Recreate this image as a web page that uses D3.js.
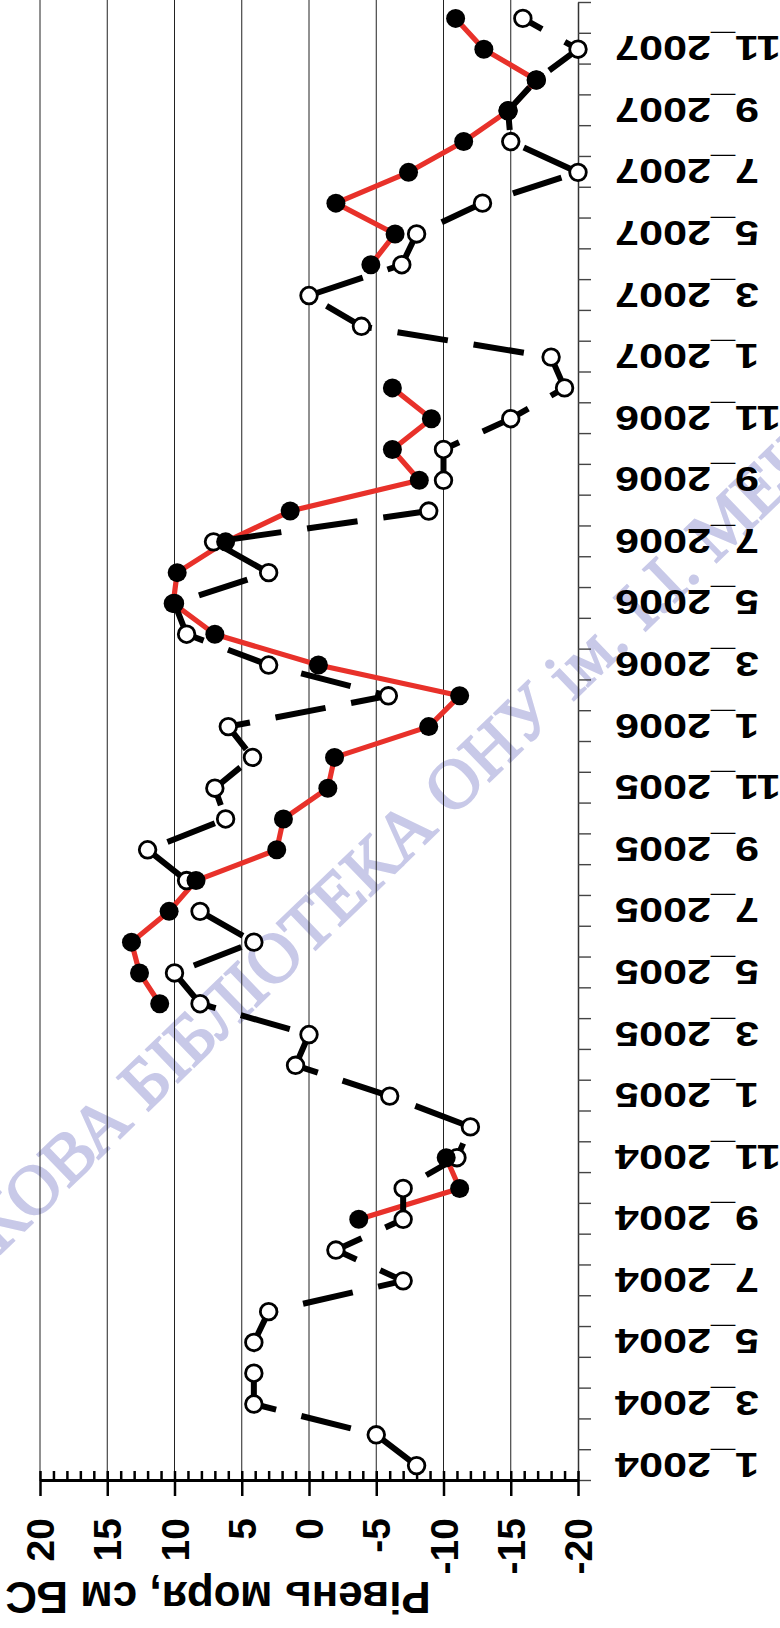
<!DOCTYPE html>
<html><head><meta charset="utf-8">
<script src="https://cdn.jsdelivr.net/npm/d3@7/dist/d3.min.js"></script>
<style>body{margin:0;background:#fff}svg{display:block;background:#fff}</style>
</head><body>
<svg id="c" width="780" height="1628"></svg>
<script>
// ---- data ----
const categories = [
 "1_2004","2_2004","3_2004","4_2004","5_2004","6_2004","7_2004","8_2004","9_2004","10_2004","11_2004","12_2004",
 "1_2005","2_2005","3_2005","4_2005","5_2005","6_2005","7_2005","8_2005","9_2005","10_2005","11_2005","12_2005",
 "1_2006","2_2006","3_2006","4_2006","5_2006","6_2006","7_2006","8_2006","9_2006","10_2006","11_2006","12_2006",
 "1_2007","2_2007","3_2007","4_2007","5_2007","6_2007","7_2007","8_2007","9_2007","10_2007","11_2007","12_2007"];
const labelCategories = ["1_2004","3_2004","5_2004","7_2004","9_2004","11_2004","1_2005","3_2005","5_2005","7_2005","9_2005","11_2005",
 "1_2006","3_2006","5_2006","7_2006","9_2006","11_2006","1_2007","3_2007","5_2007","7_2007","9_2007","11_2007"];
// dashed black series, open circles
const seriesOpen = [-8,-5,4.1,4.1,4.1,3,-7,-2,-7,-7,-11,-12,
 -6,1,0,8.1,10,4.1,8.1,9.1,12,6.2,7,4.2,
 6,-5.9,3,9.1,10,3,7.1,-8.9,-10,-10,-15,-19,
 -18,-3.9,0,-6.9,-8,-12.9,-20,-15,-14.8,-16.9,-20,-15.9];
// red series, filled circles
const seriesFilled = [null,null,null,null,null,null,null,null,-3.7,-11.2,-10.2,null,
 null,null,null,11.1,12.6,13.2,10.4,8.4,2.4,1.9,-1.4,-1.9,
 -8.9,-11.2,-0.7,7,10.1,9.8,6.2,1.4,-8.2,-6.2,-9.1,-6.2,
 null,null,null,-4.6,-6.4,-2,-7.4,-11.5,-14.8,-16.9,-13,-10.9];
const valueTicks = [20,15,10,5,0,-5,-10,-15,-20];
const gridValues = [20,15,10,5,0,-5,-10,-15];
const axisTitle = "Рівень моря, см БС";
const watermark = "НАУКОВА БІБЛІОТЕКА ОНУ ім. І.І. МЕЧНИКОВА";

// ---- drawing (chart built in its unrotated frame, then turned 90° ccw) ----
const PW = 780, PH = 1628;
const svg = d3.select("#c");
const FONT = "'Liberation Sans', Arial, sans-serif";

svg.append("text")
  .attr("transform","translate(-122,1338) rotate(-44)")
  .attr("dy","0.35em")
  .attr("font-family","'Liberation Serif','Times New Roman',serif")
  .attr("font-size",70)
  .attr("fill","#c8c9e8").attr("stroke","#c8c9e8").attr("stroke-width",2)
  .text(watermark);

const g = svg.append("g").attr("transform",`translate(0,${PH}) rotate(-90)`);
const X0 = 147, X1 = 1625, Ytop = 40, Ybot = 578;

const x = d3.scaleBand().domain(categories).range([X0, X1]).padding(0);
const xi = d3.scaleLinear().domain([0, categories.length]).range([X0, X1]);
const y = d3.scaleLinear().domain([-20, 20]).range([Ybot, Ytop]);
const cx = c => x(c) + x.bandwidth()/2;

// gridlines
g.append("g").selectAll("line").data(gridValues).join("line")
  .attr("x1", X0).attr("x2", PH).attr("y1", d=>y(d)).attr("y2", d=>y(d))
  .attr("stroke","#222").attr("stroke-width",1);

// time axis ticks (band boundaries)
const tAxis = g.append("g").attr("transform",`translate(0,${Ybot})`)
  .call(d3.axisBottom(xi).tickValues(d3.range(0, categories.length+1)).tickSize(13).tickSizeOuter(0).tickFormat(""));
tAxis.select(".domain").attr("stroke","#333").attr("stroke-width",1.5);
tAxis.selectAll(".tick line").attr("stroke","#444").attr("stroke-width",1.4);

// time labels
const lAxis = g.append("g").attr("transform",`translate(0,${Ybot})`)
  .call(d3.axisBottom(x).tickValues(labelCategories).tickSize(0).tickPadding(0));
lAxis.select(".domain").remove();
lAxis.attr("font-family",FONT).attr("font-size",36).attr("font-weight","bold");
lAxis.selectAll("text")
  .attr("x",0).attr("y",0).attr("dy","0.36em")
  .attr("transform","translate(0,37) rotate(-90) scale(1.2,1)")
  .attr("text-anchor","end").attr("fill","#000");

// value axis
const vAxis = g.append("g").attr("transform",`translate(${X0},0)`)
  .call(d3.axisLeft(y).tickValues(valueTicks).tickSize(15).tickSizeOuter(0).tickPadding(22).tickFormat(d=>String(d)));
vAxis.attr("font-family",FONT).attr("font-size",39).attr("font-weight","bold");
vAxis.select(".domain").attr("stroke","#000").attr("stroke-width",3);
vAxis.selectAll(".tick line").attr("stroke","#000").attr("stroke-width",2.5);
vAxis.selectAll("text").attr("dy","0.35em").attr("fill","#000");
const mAxis = g.append("g").attr("transform",`translate(${X0},0)`)
  .call(d3.axisRight(y).tickValues(d3.range(-20,21)).tickSize(10).tickFormat(""));
mAxis.select(".domain").remove();
mAxis.selectAll(".tick line").attr("stroke","#000").attr("stroke-width",2.5);

// axis title
g.append("text")
  .attr("transform",`translate(46,218) rotate(-90)`)
  .attr("text-anchor","middle")
  .attr("font-family",FONT).attr("font-size",44).attr("font-weight","bold")
  .text(axisTitle);

// series
const dOpen = categories.map((c,i)=>({c, v: seriesOpen[i]}));
const dFilled = categories.map((c,i)=>({c, v: seriesFilled[i]}));
const line = d3.line().defined(d=>d.v!=null).x(d=>cx(d.c)).y(d=>y(d.v));

g.append("path").datum(dFilled).attr("d",line)
  .attr("fill","none").attr("stroke","#e8312a").attr("stroke-width",5.2).attr("stroke-linejoin","round");
g.append("path").datum(dOpen).attr("d",line)
  .attr("fill","none").attr("stroke","#000").attr("stroke-width",6).attr("stroke-dasharray","51,26");

g.append("g").selectAll("circle").data(dOpen.filter(d=>d.v!=null)).join("circle")
  .attr("cx",d=>cx(d.c)).attr("cy",d=>y(d.v)).attr("r",8.3)
  .attr("fill","#fff").attr("stroke","#000").attr("stroke-width",2.8);
g.append("g").selectAll("circle").data(dFilled.filter(d=>d.v!=null)).join("circle")
  .attr("cx",d=>cx(d.c)).attr("cy",d=>y(d.v)).attr("r",9.5)
  .attr("fill","#000");
</script>
</body></html>
